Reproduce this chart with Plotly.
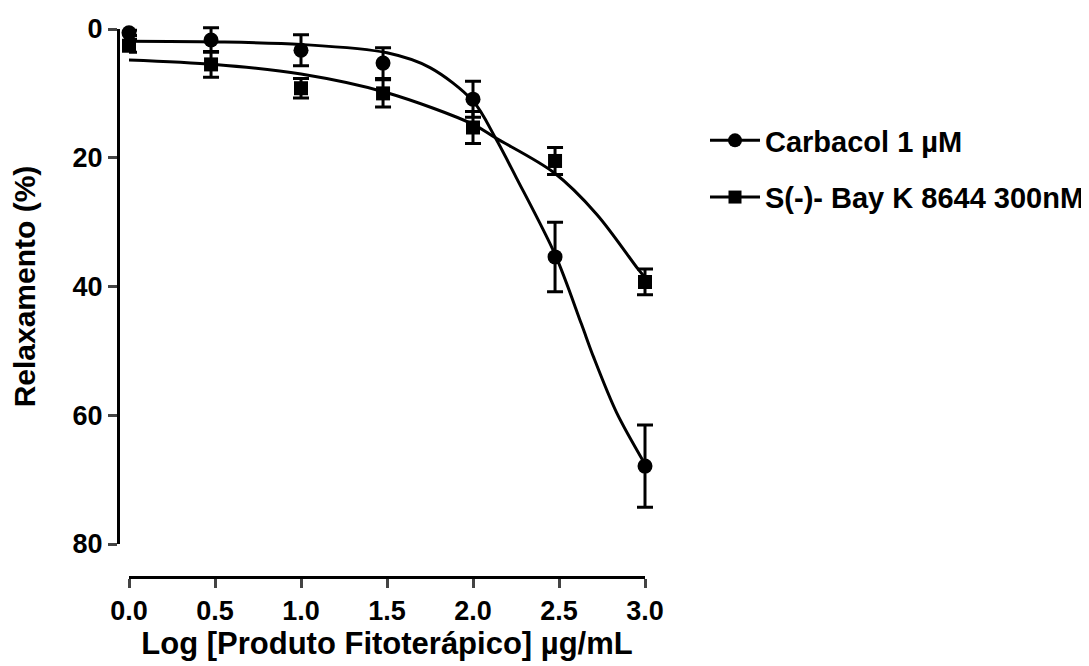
import plotly.graph_objects as go

# Data
log_conc = [0.0, 0.477, 1.0, 1.477, 2.0, 2.477, 3.0]

carb_mean = [0.6, 1.7, 3.3, 5.3, 10.9, 35.4, 67.9]
carb_sem = [0.4, 1.9, 2.4, 2.4, 2.8, 5.4, 6.4]

bay_mean = [2.6, 5.5, 9.2, 10.0, 15.3, 20.5, 39.3]
bay_sem = [1.0, 2.0, 1.5, 2.1, 2.5, 2.1, 2.0]

# Fitted curves
carb_fit_x = [0.0, 0.5, 1.0, 1.5, 1.75, 2.0, 2.13, 2.25, 2.48, 2.63, 2.70, 2.835, 3.0]
carb_fit_y = [1.9, 2.0, 2.4, 3.7, 6.0, 11.2, 16.9, 23.0, 35.2, 45.8, 50.9, 59.6, 67.6]

bay_fit_x = [0.0, 0.5, 1.0, 1.5, 2.0, 2.13, 2.47, 2.72, 2.96, 3.0]
bay_fit_y = [4.8, 5.5, 7.0, 9.9, 14.8, 16.9, 22.3, 28.8, 37.3, 38.6]

series_names = ["Carbacol 1 \u00b5M", "S(-)- Bay K 8644 300nM"]

x_ticks = [0.0, 0.5, 1.0, 1.5, 2.0, 2.5, 3.0]
y_ticks = [0, 20, 40, 60, 80]

W, H = 1089, 666
FONT = "Liberation Sans, Arial, sans-serif"

# pixel frame (page has an 8px body margin)
OFF = 8
AX_L = 118 - OFF      # y-axis line x
AX_B = 577 - OFF      # x-axis line y
X0 = 129 - OFF        # x = 0
X3 = 645 - OFF        # x = 3
Y0 = 29 - OFF         # y = 0
Y80 = 544 - OFF       # y = 80

# plot area a bit larger than the axes so error caps at the edges are not clipped
PL, PR, PT, PB = AX_L, X3 + 20, 1, AX_B
PW, PH = PR - PL, PB - PT

XMAX_DATA = 3.1
YMIN_DATA = -3.0
px_per_x = (X3 - X0) / 3.0
px_per_y = (Y80 - Y0) / 80.0
x_data_end = X3 + (XMAX_DATA - 3.0) * px_per_x
y_data_top = Y0 + YMIN_DATA * px_per_y

fig = go.Figure()

# fitted curves
fig.add_trace(go.Scatter(x=carb_fit_x, y=carb_fit_y, mode="lines",
                         line=dict(color="black", width=3, shape="spline", smoothing=0.9),
                         showlegend=False, hoverinfo="skip"))
fig.add_trace(go.Scatter(x=bay_fit_x, y=bay_fit_y, mode="lines",
                         line=dict(color="black", width=3, shape="spline", smoothing=0.9),
                         showlegend=False, hoverinfo="skip"))

# data points with error bars
fig.add_trace(go.Scatter(x=log_conc, y=bay_mean, mode="markers",
                         marker=dict(symbol="square", size=14, color="black"),
                         error_y=dict(type="data", array=bay_sem, color="black",
                                      thickness=3, width=8),
                         cliponaxis=False, showlegend=False))
fig.add_trace(go.Scatter(x=log_conc, y=carb_mean, mode="markers",
                         marker=dict(symbol="circle", size=15, color="black"),
                         error_y=dict(type="data", array=carb_sem, color="black",
                                      thickness=3, width=8),
                         cliponaxis=False, showlegend=False))

# legend entries
fig.add_trace(go.Scatter(x=[None], y=[None], mode="lines+markers", name=series_names[0],
                         marker=dict(symbol="circle", size=14, color="black"),
                         line=dict(color="black", width=3), legendgroup="a"))
fig.add_trace(go.Scatter(x=[None], y=[None], mode="lines+markers", name=series_names[1],
                         marker=dict(symbol="square", size=13, color="black"),
                         line=dict(color="black", width=3), legendgroup="b"))

# empty trace carrying the visible (detached) axes
fig.add_trace(go.Scatter(x=[None], y=[None], xaxis="x2", yaxis="y2", mode="markers",
                         showlegend=False, hoverinfo="skip"))

tick_font = dict(family=FONT, size=27, weight="bold")

fig.update_layout(
    width=W, height=H,
    margin=dict(l=PL, r=W - PR, t=PT, b=H - PB, autoexpand=False),
    paper_bgcolor="white", plot_bgcolor="rgba(0,0,0,0)",
    font=dict(family=FONT, color="black", size=26),
    # data axes (hidden)
    xaxis=dict(domain=[(X0 - PL) / PW, (x_data_end - PL) / PW], range=[0, XMAX_DATA],
               visible=False, automargin=False, anchor="y"),
    yaxis=dict(domain=[(PB - Y80) / PH, (PB - y_data_top) / PH], range=[80, YMIN_DATA],
               visible=False, automargin=False, anchor="x"),
    # visible axes
    xaxis2=dict(domain=[(X0 - PL) / PW, (X3 - PL) / PW], range=[0, 3], anchor="free", position=0,
                automargin=False,
                tickvals=x_ticks, tickformat=".1f", ticks="outside", ticklen=9, tickwidth=3,
                showline=True, linewidth=3, linecolor="black", showgrid=False, zeroline=False,
                tickfont=tick_font,
                title=dict(text="<b>Log [Produto Fitoterápico] \u00b5g/mL</b>",
                           font=dict(family=FONT, size=31), standoff=6)),
    yaxis2=dict(domain=[(PB - Y80) / PH, (PB - Y0) / PH], range=[80, 0], anchor="free", position=0,
                automargin=False,
                tickvals=y_ticks, ticks="outside", ticklen=9, tickwidth=3,
                showline=True, linewidth=3, linecolor="black", showgrid=False, zeroline=False,
                tickfont=tick_font,
                title=dict(text="<b>Relaxamento (%)</b>",
                           font=dict(family=FONT, size=30), standoff=31)),
    legend=dict(xref="container", yref="container", x=697 / W, y=1 - 107 / H,
                xanchor="left", yanchor="top", itemwidth=50,
                font=dict(family=FONT, size=29, weight="bold"),
                tracegroupgap=16, bgcolor="rgba(0,0,0,0)"),
)

fig.write_html("out.html")
